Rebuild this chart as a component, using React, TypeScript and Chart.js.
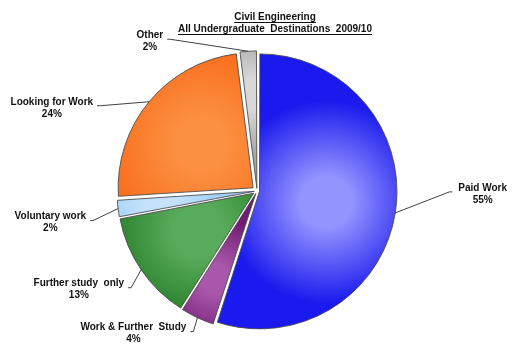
import React, { useEffect, useRef } from "react";
import { Chart, registerables } from "chart.js";

Chart.register(...registerables);

const titleLines = ["Civil Engineering", "All Undergraduate  Destinations  2009/10"];
const categories = [
  "Paid Work",
  "Work & Further  Study",
  "Further study  only",
  "Voluntary work",
  "Looking for Work",
  "Other",
];
const values = [55, 4, 13, 2, 24, 2];
const edgeColors = ["#1a1aee", "#711c74", "#1c761f", "#a0cdf6", "#f86c1a", "#a6a6a6"];
const lightColors = ["#9494ff", "#a957aa", "#58ab5a", "#c4e2fc", "#fc9042", "#d8d8d8"];

// leader-line end relative to the slice anchor, and which side the text sits on
const labelPlacement = [
  { dx: 57, dy: -21, side: 1 },
  { dx: -7, dy: 14, side: -1 },
  { dx: -13, dy: 18, side: -1 },
  { dx: -28, dy: 12, side: -1 },
  { dx: -52, dy: 4, side: -1 },
  { dx: -81, dy: -12, side: -1 },
];
const explode = [10, 11.4, 16, 10.7, 20, 10.7];
const RADIUS = 135;

const FONT = "bold 10px 'Liberation Sans', Arial, sans-serif";

function effOffset(off: number, circ: number) {
  const o = off / 4;
  const fix = 1 - Math.sin(Math.min(Math.PI, circ));
  return o + o * fix;
}

const labelsPlugin = {
  id: "pieLabels",
  afterDraw(chart: any) {
    const ctx: CanvasRenderingContext2D = chart.ctx;
    const total = values.reduce((a, b) => a + b, 0);
    ctx.save();
    ctx.font = FONT;
    ctx.fillStyle = "#111";
    ctx.textAlign = "center";
    ctx.textBaseline = "middle";
    const tx = 275;
    titleLines.forEach((t, k) => {
      const y = 17 + k * 12;
      ctx.fillText(t, tx, y);
      const w = ctx.measureText(t).width;
      ctx.fillRect(tx - w / 2, y + 5, w, 1);
    });
    const meta = chart.getDatasetMeta(0);
    meta.data.forEach((arc: any, i: number) => {
      const p = arc.getProps(["x", "y", "startAngle", "endAngle", "outerRadius"], true);
      const mid = (p.startAngle + p.endAngle) / 2;
      const eo = effOffset(explode[i], p.endAngle - p.startAngle);
      const ax = p.x + Math.cos(mid) * (p.outerRadius + eo);
      const ay = p.y + Math.sin(mid) * (p.outerRadius + eo);
      const pl = labelPlacement[i];
      const ex = ax + pl.dx;
      const ey = ay + pl.dy;
      ctx.strokeStyle = "#404040";
      ctx.lineWidth = 1;
      ctx.beginPath();
      ctx.moveTo(ax, ay);
      ctx.lineTo(ex - pl.side * 3, ey);
      ctx.lineTo(ex, ey);
      ctx.stroke();
      const name = categories[i];
      const pct = Math.round((values[i] / total) * 100) + "%";
      ctx.font = FONT;
      const w = ctx.measureText(name).width;
      const cx = pl.side > 0 ? ex + 6 + w / 2 : ex - 4 - w / 2;
      ctx.fillStyle = "#111";
      ctx.textAlign = "center";
      ctx.fillText(name, cx, ey - 4);
      ctx.fillText(pct, cx, ey + 8);
    });
    ctx.restore();
  },
};

export default function App() {
  const ref = useRef<HTMLCanvasElement>(null);
  useEffect(() => {
    document.body.style.margin = "0";
    const total = values.reduce((a, b) => a + b, 0);
    const chart = new Chart(ref.current!, {
      type: "pie",
      data: {
        labels: categories,
        datasets: [
          {
            data: values,
            backgroundColor: (c: any) => {
              const i = c.dataIndex;
              const area = c.chart.chartArea;
              if (!area || i === undefined) return edgeColors[i ?? 0];
              let before = 0;
              for (let k = 0; k < i; k++) before += values[k];
              const frac = values[i] / total;
              const mid = ((before + values[i] / 2) / total) * Math.PI * 2 - Math.PI / 2;
              const cx = (area.left + area.right) / 2;
              const cy = (area.top + area.bottom) / 2;
              const rr = frac < 0.1 ? 0.7 : 0.5;
              const gx = cx + Math.cos(mid) * RADIUS * rr;
              const gy = cy + Math.sin(mid) * RADIUS * rr;
              const gr = frac < 0.1 ? RADIUS * 0.45 : RADIUS * 0.75;
              const g = c.chart.ctx.createRadialGradient(gx, gy, 0, gx, gy, gr);
              g.addColorStop(0, lightColors[i]);
              g.addColorStop(0.25, lightColors[i]);
              g.addColorStop(1, edgeColors[i]);
              return g;
            },
            borderColor: "rgba(70,70,70,0.85)",
            borderWidth: 1,
            offset: explode,
          },
        ],
      },
      options: {
        responsive: false,
        animation: false,
        events: [],
        radius: RADIUS,
        layout: { padding: { left: 0, right: 1, top: 30, bottom: 2 } },
        plugins: {
          legend: { display: false },
          tooltip: { enabled: false },
          title: { display: false },
        },
      } as any,
      plugins: [labelsPlugin],
    });
    return () => chart.destroy();
  }, []);
  return (
    <div style={{ width: 515, height: 354, background: "#fff" }}>
      <canvas ref={ref} width={515} height={354} />
    </div>
  );
}
